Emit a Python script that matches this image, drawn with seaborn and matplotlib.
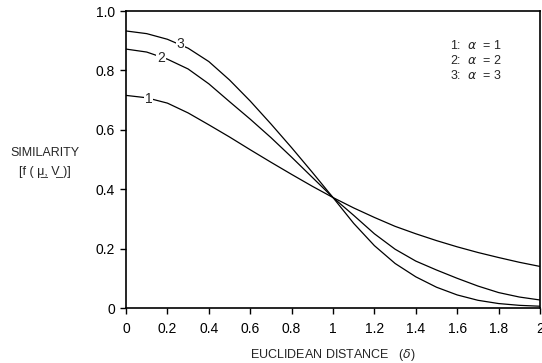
import numpy as np
import pandas as pd
import matplotlib
matplotlib.use("Agg")
import matplotlib.pyplot as plt
import seaborn as sns

# values
delta = [0.0, 0.1, 0.2, 0.3, 0.4, 0.5, 0.6, 0.7, 0.8, 0.9, 1.0,
         1.1, 1.2, 1.3, 1.4, 1.5, 1.6, 1.7, 1.8, 1.9, 2.0]
sim_a1 = [0.716, 0.708, 0.690, 0.657, 0.617, 0.576, 0.533, 0.491, 0.450, 0.410, 0.372,
          0.337, 0.305, 0.275, 0.250, 0.227, 0.206, 0.187, 0.170, 0.154, 0.140]
sim_a2 = [0.872, 0.862, 0.838, 0.805, 0.755, 0.695, 0.636, 0.574, 0.508, 0.440, 0.372,
          0.312, 0.250, 0.198, 0.158, 0.128, 0.100, 0.074, 0.052, 0.037, 0.027]
sim_a3 = [0.933, 0.924, 0.905, 0.875, 0.830, 0.768, 0.697, 0.620, 0.540, 0.457, 0.372,
          0.285, 0.210, 0.150, 0.105, 0.070, 0.044, 0.026, 0.015, 0.009, 0.006]
curve_names = ["1", "2", "3"]
xticks = [0, 0.2, 0.4, 0.6, 0.8, 1.0, 1.2, 1.4, 1.6, 1.8, 2.0]
xtick_labels = ["0", "0.2", "0.4", "0.6", "0.8", "1", "1.2", "1.4", "1.6", "1.8", "2"]
yticks = [0, 0.2, 0.4, 0.6, 0.8, 1.0]
ytick_labels = ["0", "0.2", "0.4", "0.6", "0.8", "1.0"]

df = pd.DataFrame({
    "delta": delta * 3,
    "sim": sim_a1 + sim_a2 + sim_a3,
    "curve": [c for c in curve_names for _ in delta],
})

sns.set_style("ticks")
plt.rcParams["font.family"] = ["Liberation Sans", "DejaVu Sans"]

fig = plt.figure(figsize=(5.42, 3.63), dpi=100)
ax = fig.add_axes([0.2325, 0.1515, 0.7638, 0.818])

sns.lineplot(data=df, x="delta", y="sim", hue="curve", palette=["black"] * 3,
             linewidth=0.9, legend=False, ax=ax)

# inline curve labels (white box makes the gap in the line)
label_pos = [(0.108, 0.705), (0.169, 0.841), (0.264, 0.890)]
for name, (lx, ly) in zip(curve_names, label_pos):
    ax.text(lx, ly, name, fontsize=10, ha="center", va="center",
            bbox=dict(facecolor="white", edgecolor="none", pad=0.5))

legend_lines = ["1:  $\\alpha$  = 1", "2:  $\\alpha$  = 2", "3:  $\\alpha$  = 3"]
for i, t in enumerate(legend_lines):
    ax.text(1.565, 0.885 - i * 0.051, t, fontsize=9, ha="left", va="center")

ax.set_xlim(0, 2)
ax.set_ylim(0, 1)
ax.set_xticks(xticks)
ax.set_xticklabels(xtick_labels)
ax.set_yticks(yticks)
ax.set_yticklabels(ytick_labels)
ax.tick_params(axis="both", direction="out", length=4, width=1, labelsize=10,
               color="black", labelcolor="black")
ax.tick_params(axis="x", pad=6)
ax.tick_params(axis="y", pad=4)
for s in ax.spines.values():
    s.set_visible(True)
    s.set_linewidth(1.2)
    s.set_color("black")

ax.set_xlabel("EUCLIDEAN DISTANCE   ($\\delta$)", fontsize=9, labelpad=8)

# underlined vector symbols via combining low line
ylab = "SIMILARITY\n[f ( \u03bc\u0332, V\u0332 )]"
ax.set_ylabel(ylab, fontsize=9, rotation=0, ha="center", va="center",
              multialignment="center", linespacing=1.8)
ax.yaxis.set_label_coords(-0.196, 0.49)

fig.savefig("out.png", dpi=100)
